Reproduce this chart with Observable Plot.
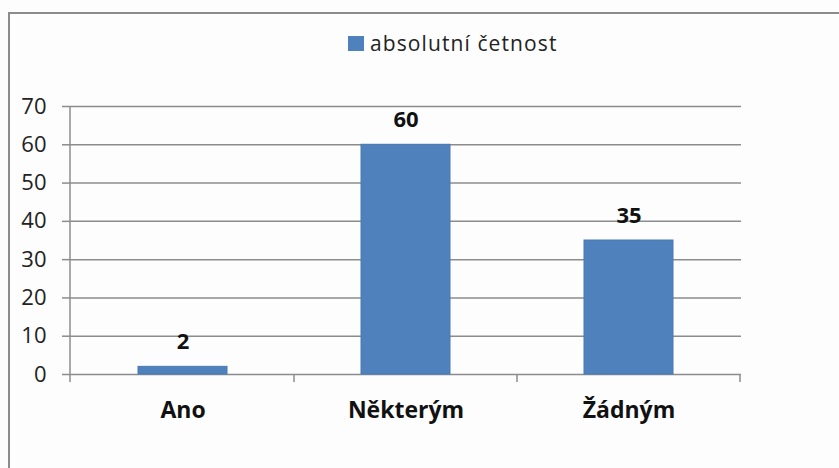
<!DOCTYPE html>
<html>
<head>
<meta charset="utf-8">
<script src="https://cdn.jsdelivr.net/npm/d3@7"></script>
<script src="https://cdn.jsdelivr.net/npm/@observablehq/plot@0.6"></script>
<style>
  html, body { margin: 0; padding: 0; background: #fdfdfd; }
  #wrap { position: relative; width: 839px; height: 468px; overflow: hidden; background: #fdfdfd; font-family: "Open Sans", sans-serif; }
  #border { position: absolute; left: 8px; top: 12px; width: 840px; height: 470px; border-left: 2px solid #8c8c8c; border-top: 2px solid #8c8c8c; box-sizing: border-box; }
  #chart { position: absolute; left: 0; top: 0; }
  #legend { position: absolute; left: 348px; top: 29px; display: flex; align-items: center; font-size: 21px; letter-spacing: 1.1px; color: #222; white-space: nowrap; }
  #legend .sw { width: 16px; height: 15px; background: #4f81bd; margin-right: 6px; }
</style>
</head>
<body>
<div id="wrap">
  <div id="border"></div>
  <div id="chart"></div>
  <div id="legend"><span class="sw"></span><span id="legtext"></span></div>
</div>
<script>
const categories = ["Ano", "Některým", "Žádným"];
const counts = [2, 60, 35];
const seriesName = "absolutní četnost";
const yTicks = [0, 10, 20, 30, 40, 50, 60, 70];

const data = categories.map((c, i) => ({ category: c, value: counts[i] }));
document.getElementById("legtext").textContent = seriesName;

const gridColor = "#8c8c8c";

function separators(index, scales, values, dimensions) {
  const { marginLeft } = dimensions;
  const x = scales.x, y = scales.y;
  const step = x.step ? x.step() : x.bandwidth();
  const bw = x.bandwidth();
  const g = d3.create("svg:g").attr("stroke", gridColor).attr("stroke-width", 1.5);
  const y0 = y(0), yTop = y(d3.max(yTicks));
  g.append("line").attr("x1", marginLeft).attr("x2", marginLeft).attr("y1", yTop).attr("y2", y0 + 8);
  categories.forEach(c => {
    const xb = x(c) + bw + (step - bw) / 2;
    g.append("line").attr("x1", xb).attr("x2", xb).attr("y1", y0).attr("y2", y0 + 8);
  });
  return g.node();
}

const chart = Plot.plot({
  width: 839,
  height: 468,
  marginLeft: 70,
  marginRight: 98,
  marginTop: 106,
  marginBottom: 94,
  style: { fontFamily: "Open Sans, sans-serif", background: "transparent", color: "#111" },
  x: { domain: categories, paddingInner: 0.6, paddingOuter: 0.3 },
  y: { domain: [0, 70] },
  marks: [
    Plot.axisY({ ticks: yTicks, tickSize: 8, tickPadding: 16, stroke: gridColor, strokeWidth: 1.5, strokeOpacity: 1, fontSize: 22, label: null, fill: "#222", style: "letter-spacing:1px" }),
    Plot.gridY({ ticks: yTicks, stroke: gridColor, strokeWidth: 1.5, strokeOpacity: 1 }),
    Plot.barY(data, { x: "category", y: "value", fill: "#4f81bd", stroke: "#4a7ab4", strokeWidth: 1 }),
    separators,
    Plot.text(data, { x: "category", y: "value", text: d => String(d.value), dy: -18, lineAnchor: "bottom", fontSize: 22, fontWeight: "bold", fill: "#111" }),
    Plot.axisX({ tickSize: 0, tickPadding: 27, fontSize: 23, fontWeight: "bold", label: null, fill: "#111", style: "letter-spacing:1.5px" })
  ]
});
document.getElementById("chart").appendChild(chart);
</script>
</body>
</html>
